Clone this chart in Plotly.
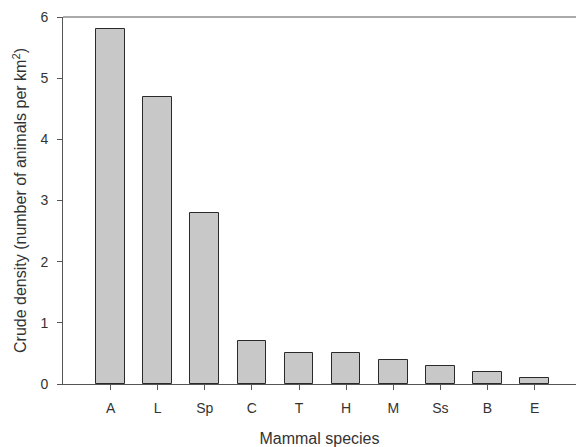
import plotly.graph_objects as go

species = ["A", "L", "Sp", "C", "T", "H", "M", "Ss", "B", "E"]
density = [5.8, 4.7, 2.8, 0.7, 0.5, 0.5, 0.4, 0.3, 0.2, 0.1]
y_ticks = [0, 1, 2, 3, 4, 5, 6]

positions = list(range(len(species)))

fig = go.Figure(
    go.Bar(
        x=positions,
        y=density,
        width=0.61,
        marker=dict(color="#c8c8c8", line=dict(color="#2a2a2a", width=1)),
    )
)

axis_font = dict(family="Liberation Sans, Arial, sans-serif", size=14, color="#333333")
title_font = dict(family="Liberation Sans, Arial, sans-serif", size=16, color="#333333")

fig.update_layout(
    width=577,
    height=447,
    margin=dict(l=63, r=1, t=17, b=63),
    paper_bgcolor="white",
    plot_bgcolor="white",
    showlegend=False,
    bargap=0,
    font=axis_font,
    # top frame line (no right-hand border)
    shapes=[
        dict(
            type="line",
            xref="paper",
            yref="paper",
            x0=0,
            x1=1,
            y0=1,
            y1=1,
            line=dict(color="#555555", width=1),
        )
    ],
)

fig.update_xaxes(
    range=[-1.01, 9.88],
    tickvals=positions,
    ticktext=species,
    ticks="outside",
    ticklen=5,
    tickcolor="#555555",
    ticklabelstandoff=6,
    showline=True,
    linecolor="#555555",
    linewidth=1,
    showgrid=False,
    zeroline=False,
    tickfont=axis_font,
    title=dict(text="Mammal species", font=title_font, standoff=18),
)

fig.update_yaxes(
    range=[0, 6],
    tickvals=y_ticks,
    ticks="outside",
    ticklen=5,
    tickcolor="#555555",
    ticklabelstandoff=6,
    showline=True,
    linecolor="#555555",
    linewidth=1,
    showgrid=False,
    zeroline=False,
    tickfont=axis_font,
    title=dict(
        text="Crude density (number of animals per km<sup>2</sup>)",
        font=title_font,
        standoff=9,
    ),
)

fig.write_html("out.html")
